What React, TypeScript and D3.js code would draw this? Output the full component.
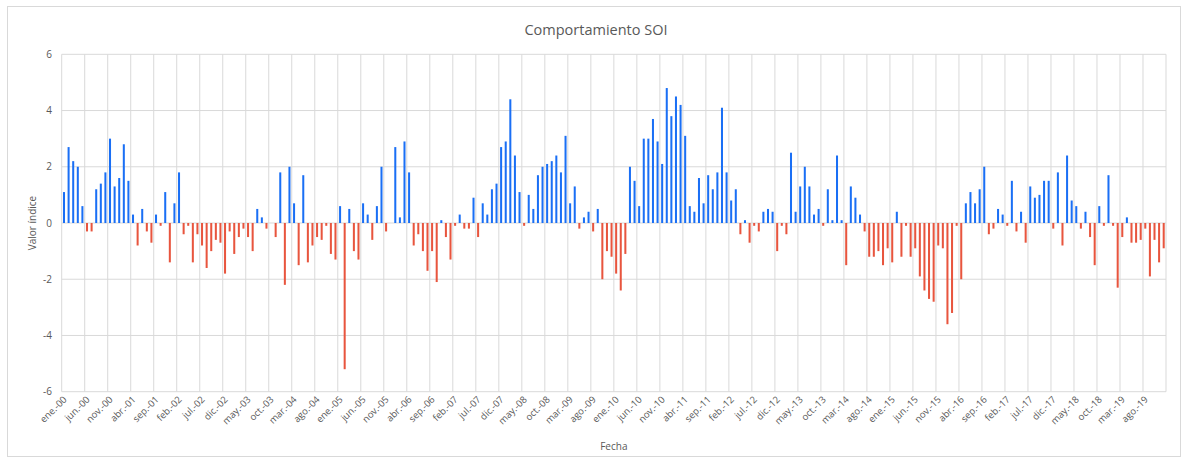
import React from "react";
import * as d3 from "d3";

const MONTHS = ["ene.", "feb.", "mar.", "abr.", "may.", "jun.", "jul.", "ago.", "sep.", "oct.", "nov.", "dic."];
const YEARS = ["00","01","02","03","04","05","06","07","08","09","10","11","12","13","14","15","16","17","18","19"];

const SOI_2000_2004 = [
  1.1, 2.7, 2.2, 2.0, 0.6, -0.3, -0.3, 1.2, 1.4, 1.8, 3.0, 1.3,
  1.6, 2.8, 1.5, 0.3, -0.8, 0.5, -0.3, -0.7, 0.3, -0.1, 1.1, -1.4,
  0.7, 1.8, -0.4, -0.1, -1.4, -0.4, -0.8, -1.6, -1.0, -0.6, -0.7, -1.8,
  -0.3, -1.1, -0.5, -0.2, -0.5, -1.0, 0.5, 0.2, -0.2, 0.0, -0.5, 1.8,
  -2.2, 2.0, 0.7, -1.5, 1.7, -1.4, -0.8, -0.5, -0.6, -0.1, -1.1, -1.3,
];
const SOI_2005_2009 = [
  0.6, -5.2, 0.5, -1.0, -1.3, 0.7, 0.3, -0.6, 0.6, 2.0, -0.3, 0.0,
  2.7, 0.2, 2.9, 1.8, -0.8, -0.4, -1.0, -1.7, -1.0, -2.1, 0.1, -0.5,
  -1.3, -0.1, 0.3, -0.2, -0.2, 0.9, -0.5, 0.7, 0.3, 1.2, 1.4, 2.7,
  2.9, 4.4, 2.4, 1.1, -0.1, 1.0, 0.5, 1.7, 2.0, 2.1, 2.2, 2.4,
  1.8, 3.1, 0.7, 1.3, -0.2, 0.2, 0.4, -0.3, 0.5, -2.0, -1.0, -1.2,
];
const SOI_2010_2014 = [
  -1.8, -2.4, -1.1, 2.0, 1.5, 0.6, 3.0, 3.0, 3.7, 2.9, 2.1, 4.8,
  3.8, 4.5, 4.2, 3.1, 0.6, 0.4, 1.6, 0.7, 1.7, 1.2, 1.8, 4.1,
  1.8, 0.8, 1.2, -0.4, 0.1, -0.7, -0.1, -0.3, 0.4, 0.5, 0.4, -1.0,
  -0.1, -0.4, 2.5, 0.4, 1.3, 2.0, 1.3, 0.3, 0.5, -0.1, 1.2, 0.1,
  2.4, 0.1, -1.5, 1.3, 0.9, 0.3, -0.3, -1.2, -1.2, -1.0, -1.5, -0.9,
];
const SOI_2015_2019 = [
  -1.4, 0.4, -1.2, -0.1, -1.2, -0.9, -1.9, -2.4, -2.7, -2.8, -0.8, -0.9,
  -3.6, -3.2, -0.1, -2.0, 0.7, 1.1, 0.7, 1.2, 2.0, -0.4, -0.2, 0.5,
  0.3, -0.1, 1.5, -0.3, 0.4, -0.7, 1.3, 0.9, 1.0, 1.5, 1.5, -0.2,
  1.8, -0.8, 2.4, 0.8, 0.6, -0.2, 0.4, -0.5, -1.5, 0.6, -0.1, 1.7,
  -0.1, -2.3, -0.5, 0.2, -0.7, -0.7, -0.6, -0.2, -1.9, -0.6, -1.4, -0.9,
];
const Y_TICKS = [-6, -4, -2, 0, 2, 4, 6];

const VALUES = [...SOI_2000_2004, ...SOI_2005_2009, ...SOI_2010_2014, ...SOI_2015_2019];
const CATEGORIES = YEARS.flatMap((y) => MONTHS.map((m) => `${m}-${y}`));

const W = 1186;
const H = 463;
const PL = 61.7;
const PR = 1166;
const PT = 54.3;
const PB = 391.7;
const FONT = "'Open Sans', 'Liberation Sans', sans-serif";
const TEXT = "#595959";
const GRID = "#d9d9d9";
const BLUE = "#1a6ff5";
const RED = "#e8553e";

export default function App() {
  const x = d3
    .scaleBand<string>()
    .domain(CATEGORIES)
    .range([PL, PR])
    .paddingInner(0.56)
    .paddingOuter(0.28);
  const step = x.step();
  const y = d3.scaleLinear().domain([-6, 6]).range([PB, PT]);

  const vGrid = d3.range(0, CATEGORIES.length + 1, 5).map((k) => PL + k * step);

  return (
    <svg
      width={W}
      height={H}
      style={{ position: "absolute", left: 0, top: 0, background: "#fff" }}
      fontFamily={FONT}
    >
      <rect x={0} y={0} width={W} height={H} fill="#fff" />
      <rect x={7.5} y={6.5} width={1173} height={450} fill="#fff" stroke={GRID} strokeWidth={1} />
      <text x={596} y={35} textAnchor="middle" fontSize={14.5} fill={TEXT}>
        Comportamiento SOI
      </text>
      {Y_TICKS.map((t) => (
        <line key={"h" + t} x1={PL} x2={PR} y1={y(t)} y2={y(t)} stroke={GRID} strokeWidth={1} />
      ))}
      {vGrid.map((gx, i) => (
        <line key={"v" + i} x1={gx} x2={gx} y1={PT} y2={PB} stroke={GRID} strokeWidth={1} />
      ))}
      {Y_TICKS.map((t) => (
        <text key={"yl" + t} x={52} y={y(t)} dy="0.35em" textAnchor="end" fontSize={10} fill={TEXT}>
          {t}
        </text>
      ))}
      {VALUES.map((v, i) => {
        const c = CATEGORIES[i];
        const y0 = y(Math.max(0, v));
        const y1 = y(Math.min(0, v));
        return (
          <rect
            key={c}
            x={x(c)}
            y={y0}
            width={x.bandwidth()}
            height={Math.max(0, y1 - y0)}
            fill={v >= 0 ? BLUE : RED}
          />
        );
      })}
      {CATEGORIES.map((c, i) =>
        i % 5 === 0 ? (
          <text
            key={"xl" + c}
            transform={`translate(${(x(c) as number) + x.bandwidth() / 2 + 1},${PB + 6}) rotate(-45)`}
            textAnchor="end"
            dy="0.35em"
            fontSize={9.5}
            fill={TEXT}
          >
            {c}
          </text>
        ) : null
      )}
      <text
        transform={`translate(36,${(PT + PB) / 2}) rotate(-90)`}
        textAnchor="middle"
        fontSize={10}
        fill={TEXT}
      >
        Valor índice
      </text>
      <text x={(PL + PR) / 2} y={450} textAnchor="middle" fontSize={10} fill={TEXT}>
        Fecha
      </text>
    </svg>
  );
}
